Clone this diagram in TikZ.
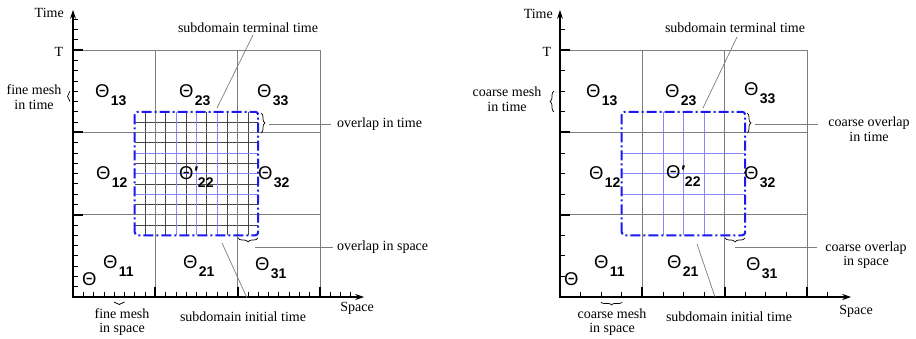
\documentclass[tikz,border=0pt]{standalone}
\usepackage{fontspec}
\setmainfont{Liberation Serif}
\newfontfamily\thsans{Liberation Sans}
\usetikzlibrary{arrows.meta,decorations.pathreplacing}
\definecolor{gridgray}{RGB}{125,125,125}
\definecolor{finegray}{RGB}{70,70,70}
\definecolor{rectblue}{RGB}{25,25,240}
\definecolor{lightblue}{RGB}{135,135,255}
\newcommand{\ThLabel}[1]{{\fontsize{18.5}{19}\thsans\selectfont Θ}\kern1.2pt\raisebox{-8pt}{\fontsize{14}{15}\thsans\bfseries\selectfont #1}}
\newcommand{\ThPrime}[1]{{\fontsize{18.5}{19}\thsans\selectfont Θ}\kern0.8pt\raisebox{0.5pt}{\fontsize{17}{18}\thsans\bfseries\selectfont ′}\kern-0.5pt\raisebox{-8pt}{\fontsize{14}{15}\thsans\bfseries\selectfont #1}}
\newcommand{\ThLone}{{\fontsize{18.5}{19}\thsans\selectfont Θ}}
\tikzset{
  lbl/.style={font=\fontsize{14}{14.5}\selectfont, inner sep=0pt, align=center},
  th/.style={anchor=base west, inner sep=0pt},
  axes/.style={line width=2pt, {Stealth[length=9pt,width=6pt]}-{Stealth[length=9pt,width=6pt]}},
  majortick/.style={line width=2pt},
  minortick/.style={line width=0.7pt},
  mainline/.style={draw=gridgray, line width=0.8pt},
  fineline/.style={draw=finegray, line width=0.6pt},
  coarseline/.style={draw=lightblue, line width=0.8pt},
  blueframe/.style={draw=rectblue, line width=2pt, rounded corners=3pt, dash pattern=on 10pt off 3pt on 2pt off 3pt},
  leader/.style={draw=gridgray, line width=0.7pt},
  bracedeco/.style={draw=black, decorate, decoration={brace, amplitude=#1}, line width=0.7pt},
}
\begin{document}
\begin{tikzpicture}[x=1pt,y=-1pt]
\useasboundingbox[fill=white] (0,0) rectangle (916,339);

% ===== left diagram =====
\begin{scope}[shift={(73pt,-297pt)}, x=10.29pt, y=10.29pt]
  \foreach \i in {7,...,17} {
    \draw[fineline] (\i,6) -- (\i,18);
    \draw[fineline] (6,\i) -- (18,\i);
  }
  \foreach \i in {10,12,14} {
    \draw[coarseline] (\i,6) -- (\i,18);
    \draw[coarseline] (6,\i) -- (18,\i);
  }
  \foreach \i in {8,16,24} {
    \draw[mainline] (\i,0) -- (\i,24);
    \draw[mainline] (0,\i) -- (24,\i);
  }
  \draw[blueframe] (6,6) rectangle (18,18);
  \foreach \i in {1,...,27} {
    \draw[minortick] (\i,0) -- (\i,0.45);
    \draw[minortick] (0,\i) -- (0.45,\i);
  }
  \foreach \i in {8,16,24} {
    \draw[majortick] (\i,0) -- (\i,0.95);
    \draw[majortick] (0,\i) -- (0.95,\i);
  }
  \draw[axes] (0,27.9) -- (0,0) -- (28.3,0);
\end{scope}

% ===== right diagram =====
\begin{scope}[shift={(560pt,-297pt)}, x=10.29pt, y=10.29pt]
  \foreach \i in {10,12,14} {
    \draw[coarseline] (\i,6) -- (\i,18);
    \draw[coarseline] (6,\i) -- (18,\i);
  }
  \foreach \i in {8,16,24} {
    \draw[mainline] (\i,0) -- (\i,24);
    \draw[mainline] (0,\i) -- (24,\i);
  }
  \draw[blueframe] (6,6) rectangle (18,18);
  \foreach \i in {2,4,...,26} {
    \draw[minortick] (\i,0) -- (\i,0.45);
    \draw[minortick] (0,\i) -- (0.45,\i);
  }
  \foreach \i in {8,16,24} {
    \draw[majortick] (\i,0) -- (\i,0.95);
    \draw[majortick] (0,\i) -- (0.95,\i);
  }
  \draw[axes] (0,27.9) -- (0,0) -- (28.3,0);
\end{scope}

% ===== left labels =====
\node[lbl, anchor=east] (timeL) at (64,13) {Time};
\node[lbl] (TL) at (59,52) {T};
\node[lbl] (fmtL) at (34,97) {fine mesh\\in time};
\node[lbl] (sttL) at (248,28) {subdomain terminal time};
\node[lbl, anchor=west] (oitL) at (337,124) {overlap in time};
\node[lbl, anchor=west] (oisL) at (337,247) {overlap in space};
\node[lbl] (spaceL) at (357,308) {Space};
\node[lbl] (fmsL) at (122,322) {fine mesh\\in space};
\node[lbl] (sitL) at (243,317) {subdomain initial time};

\node[th] (t13L) at (95,97.5) {\ThLabel{13}};
\node[th] (t23L) at (179,97.5) {\ThLabel{23}};
\node[th] (t33L) at (257,97.5) {\ThLabel{33}};
\node[th] (t12L) at (96,179.5) {\ThLabel{12}};
\node[th] (t22L) at (179,179.5) {\ThPrime{22}};
\node[th] (t32L) at (258,179.5) {\ThLabel{32}};
\node[th] (t11L) at (103,268.5) {\ThLabel{11}};
\node[th] (t21L) at (183,268.5) {\ThLabel{21}};
\node[th] (t31L) at (255,270.5) {\ThLabel{31}};
\node[th] (t0L) at (82,286) {\ThLone};

% braces left
\draw[bracedeco=2.5pt] (70,101.5) -- (70,91.2);
\draw[bracedeco=4pt] (261,113) -- (261,133);
\draw[bracedeco=4pt] (258,238) -- (238,238);
\draw[bracedeco=2.5pt] (124.5,302) -- (114,302);

% leaders left
\coordinate (a1) at (253,35);  \coordinate (a2) at (217,108);
\coordinate (b1) at (269,124); \coordinate (b2) at (331,124);
\coordinate (c1) at (255,247); \coordinate (c2) at (333,247);
\coordinate (d1) at (222,243); \coordinate (d2) at (247,298);
\draw[leader] (a1) -- (a2);
\draw[leader] (b1) -- (b2);
\draw[leader] (c1) -- (c2);
\draw[leader] (d1) -- (d2);

% ===== right labels =====
\node[lbl, anchor=east] (timeR) at (553,14) {Time};
\node[lbl] (TR) at (547,52) {T};
\node[lbl] (cmtR) at (507,99) {coarse mesh\\in time};
\node[lbl] (sttR) at (735,28) {subdomain terminal time};
\node[lbl] (cotR) at (869,129) {coarse overlap\\in time};
\node[lbl] (cosR) at (866,255) {coarse overlap\\in space};
\node[lbl] (spaceR) at (856,311) {Space};
\node[lbl] (cmsR) at (612,322) {coarse mesh\\in space};
\node[lbl] (sitR) at (729,317) {subdomain initial time};

\node[th] (t13R) at (586,97.5) {\ThLabel{13}};
\node[th] (t23R) at (665,97.5) {\ThLabel{23}};
\node[th] (t33R) at (744,96) {\ThLabel{33}};
\node[th] (t12R) at (589,179.5) {\ThLabel{12}};
\node[th] (t22R) at (666,178.5) {\ThPrime{22}};
\node[th] (t32R) at (744,180) {\ThLabel{32}};
\node[th] (t11R) at (594,268.5) {\ThLabel{11}};
\node[th] (t21R) at (667,268.5) {\ThLabel{21}};
\node[th] (t31R) at (746,270.5) {\ThLabel{31}};
\node[th] (t0R) at (564,285) {\ThLone};

% braces right
\draw[bracedeco=4pt] (554,111.8) -- (554,91.2);
\draw[bracedeco=4pt] (747,113) -- (747,133);
\draw[bracedeco=4pt] (745,238) -- (725,238);
\draw[bracedeco=3pt] (622,302) -- (601,302);

% leaders right
\coordinate (e1) at (737,37);  \coordinate (e2) at (703,108);
\coordinate (f1) at (755,124); \coordinate (f2) at (818,124);
\coordinate (g1) at (735,247); \coordinate (g2) at (817,247);
\coordinate (h1) at (697,244); \coordinate (h2) at (715,297);
\draw[leader] (e1) -- (e2);
\draw[leader] (f1) -- (f2);
\draw[leader] (g1) -- (g2);
\draw[leader] (h1) -- (h2);
\end{tikzpicture}
\end{document}
